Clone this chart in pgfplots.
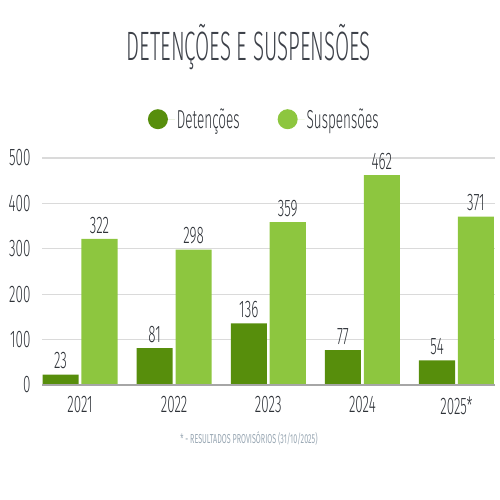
\documentclass[border=0pt]{standalone}
\usepackage{pgfplots}
\pgfplotsset{compat=1.18}
\usepackage{fontspec}
\setmainfont{Fira Sans}[UprightFont=* Light, FakeStretch=0.52]
\newfontfamily\titlefont{Fira Sans}[UprightFont=* Light, FakeStretch=0.5]
\newfontfamily\numfont{Fira Sans}[UprightFont=* Light, FakeStretch=0.56]
\newfontfamily\footfont{Fira Sans}[FakeStretch=0.55]
\definecolor{dgreen}{HTML}{578E0C}
\definecolor{lgreen}{HTML}{8DC63F}
\definecolor{txt}{HTML}{2E3238}
\definecolor{ttl}{HTML}{3C4048}
\definecolor{foot}{HTML}{9AA8B4}
\definecolor{gridc}{HTML}{DADADA}
\begin{document}
\begin{tikzpicture}[x=1pt,y=1pt]
\path[use as bounding box] (0pt,0pt) rectangle (500pt,500pt);
\node[text=ttl, font=\titlefont\fontsize{41}{41}\selectfont] at (249pt,453pt) {DETENÇÕES E SUSPENSÕES};
\node[text=foot, font=\footfont\fontsize{13}{13}\selectfont] at (249pt,61pt) {* - RESULTADOS PROVISÓRIOS (31/10/2025)};
\begin{axis}[
  at={(42pt,115pt)}, anchor=south west,
  scale only axis, width=452.5pt, height=227pt,
  xmin=-0.404, xmax=4.404, ymin=0, ymax=500,
  ytick={0,100,200,300,400,500},
  xtick={0,1,2,3,4},
  xticklabels={2021,2022,2023,2024,2025*},
  /pgf/number format/assume math mode=true,
  ticklabel style={font=\numfont\fontsize{24}{24}\selectfont, text=txt},
  yticklabel style={xshift=-8pt},
  xticklabel style={yshift=-8pt},
  major tick length=0pt,
  axis line style={draw=none},
  axis x line*=bottom,
  ymajorgrids, grid style={gridc, line width=1.3pt},
  ybar, bar width=0.383,
  nodes near coords,
  every node near coord/.append style={font=\numfont\fontsize{24}{24}\selectfont, text=txt, yshift=2pt},
  legend style={at={(0.5,1)}, anchor=south, yshift=24pt, xshift=-4pt, draw=none, fill=none,
    font=\fontsize{26}{26}\selectfont, text=txt, legend columns=2,
    /tikz/every even column/.append style={column sep=36pt}},
  legend image code/.code={\fill[#1] (0pt,0pt) circle (10pt); \path (-10pt,0pt) -- (17pt,0pt);},
  clip=false,
]
\addplot[fill=dgreen, draw=none, bar shift=-0.207] coordinates {(0,23) (1,81) (2,136) (3,77) (4,54)};
\addplot[fill=lgreen, draw=none, bar shift=0.207] coordinates {(0,322) (1,298) (2,359) (3,462) (4,371)};
\draw[gray!70, line width=1.3pt] (axis cs:-0.404,0) -- (axis cs:4.404,0);
\legend{Detenções, Suspensões}
\end{axis}
\end{tikzpicture}
\end{document}
